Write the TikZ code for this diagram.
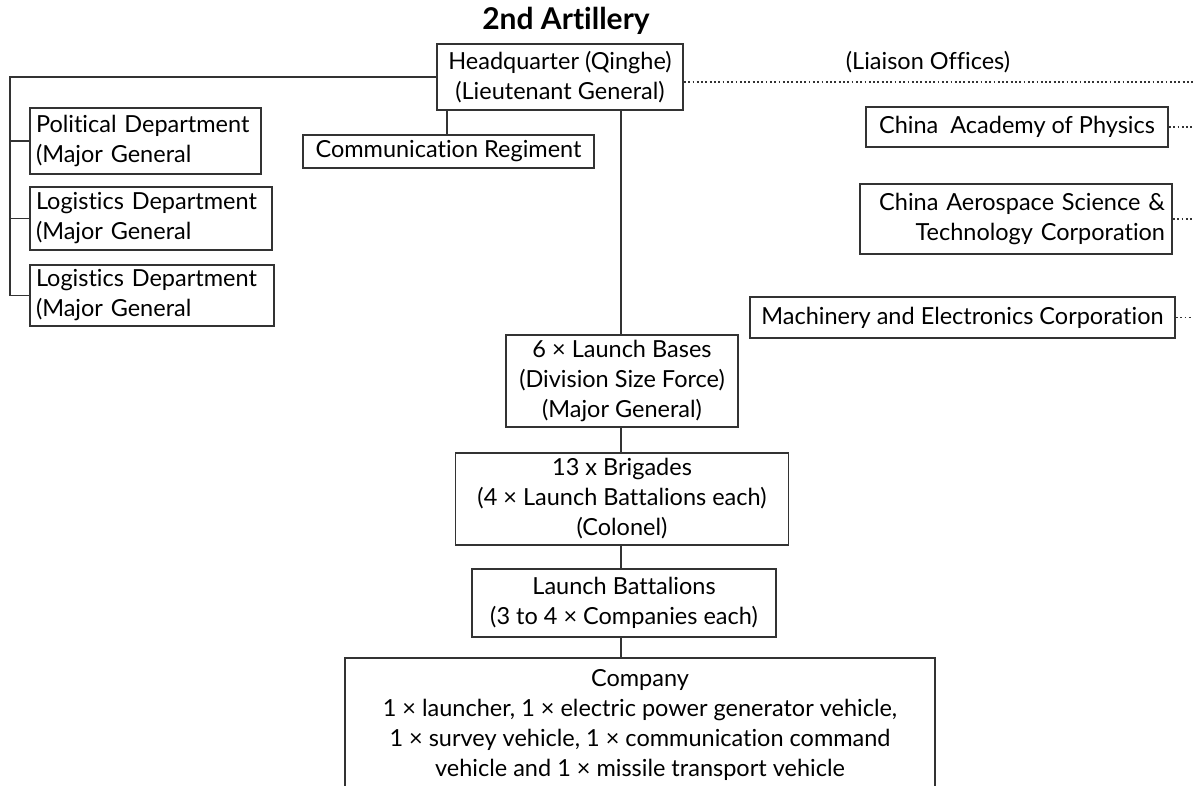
\documentclass[tikz,border=0pt]{standalone}
\usepackage{fontspec}
\setmainfont{Lato}[Ligatures=NoCommon]
\begin{document}
\begin{tikzpicture}[x=1pt,y=-1pt,
  box/.style={draw=black!80, line width=1.8pt, shape=rectangle, inner xsep=6pt, inner ysep=0pt, align=center, font=\fontsize{23.5}{30}\selectfont},
  lbl/.style={shape=rectangle, draw=none, font=\fontsize{23.5}{30}\selectfont},
  ttl/.style={shape=rectangle, draw=none, font=\fontsize{30}{34}\selectfont\bfseries},
  lnk/.style={black!80, line width=1.8pt},
  liaison/.style={black!80, line width=1.8pt, dash pattern=on 1.8pt off 2.5pt}]

%% - Page frame
%% - --------------------------------------

\useasboundingbox (0,0) rectangle (1193,786);
\clip (0,0) rectangle (1193,786);

%% - Draw boxes
%% - --------------------------------------

\node[ttl] (title) at (566,21) {2nd Artillery};
\node[box, minimum width=246pt, minimum height=66pt] (hq) at (560,77) {Headquarter (Qinghe)\\(Lieutenant General)};

%% - staff departments (left)

\node[box, minimum height=66pt, text width=219pt, align=left] (pol) at (145.5,141) {Political Department\\(Major General};
\node[box, minimum height=63pt, text width=230pt, align=left] (logA) at (151,218.5) {Logistics Department\\(Major General};
\node[box, minimum height=61pt, text width=232pt, align=left] (logB) at (152,295.5) {Logistics Department\\(Major General};

\node[box, minimum width=291pt, minimum height=33pt] (comm) at (448.5,151.5) {Communication Regiment};

%% - chain of command

\node[box, minimum width=232pt, minimum height=92pt] (bases) at (622,381) {6 × Launch Bases\\(Division Size Force)\\(Major General)};
\node[box, minimum width=333pt, minimum height=92pt] (brig) at (622,499) {13 x Brigades\\(4 × Launch Battalions each)\\(Colonel)};
\node[box, minimum width=304pt, minimum height=68pt] (batt) at (624,603) {Launch Battalions\\(3 to 4 × Companies each)};
\node[box, minimum width=590pt, minimum height=134pt, anchor=north] (comp) at (640,657) {Company\\1 × launcher, 1 × electric power generator vehicle,\\1 × survey vehicle, 1 × communication command\\vehicle and 1 × missile transport vehicle};

%% - liaison offices (right)

\node[lbl] (liais) at (928,62) {(Liaison Offices)};
\node[box, minimum width=302pt, minimum height=40pt] (cap) at (1017,127) {China\ \ Academy of Physics};
\node[box, minimum height=70pt, text width=298pt, align=right, inner xsep=7pt] (castc) at (1016,219) {China Aerospace Science \&\\Technology Corporation};
\node[box, minimum width=425pt, minimum height=41pt] (mec) at (962.5,317.5) {Machinery and Electronics Corporation};

%% - Draw connectors
%% - --------------------------------------

\coordinate (lt) at (10,77);
\coordinate (spine) at (621,0);
\coordinate (edge) at (1193,82);

\draw[lnk] (hq.west) -- (lt) |- (logB.west);
\draw[lnk] (pol.west) -- (pol.west -| lt);
\draw[lnk] (logA.west) -- (logA.west -| lt);

\draw[lnk] (comm.north -| 447,0) -- (hq.south -| 447,0);

\draw[lnk] (spine |- hq.south) -- (spine |- bases.north);
\draw[lnk] (spine |- bases.south) -- (spine |- brig.north);
\draw[lnk] (spine |- brig.south) -- (spine |- batt.north);
\draw[lnk] (spine |- batt.south) -- (spine |- comp.north);

%% - dotted liaison links

\draw[liaison] (hq.east |- edge) -- (edge);
\draw[liaison] (cap.east) -- (cap.east -| edge);
\draw[liaison] (castc.east) -- (castc.east -| edge);
\draw[liaison] (mec.east) -- (mec.east -| edge);

\end{tikzpicture}
\end{document}
